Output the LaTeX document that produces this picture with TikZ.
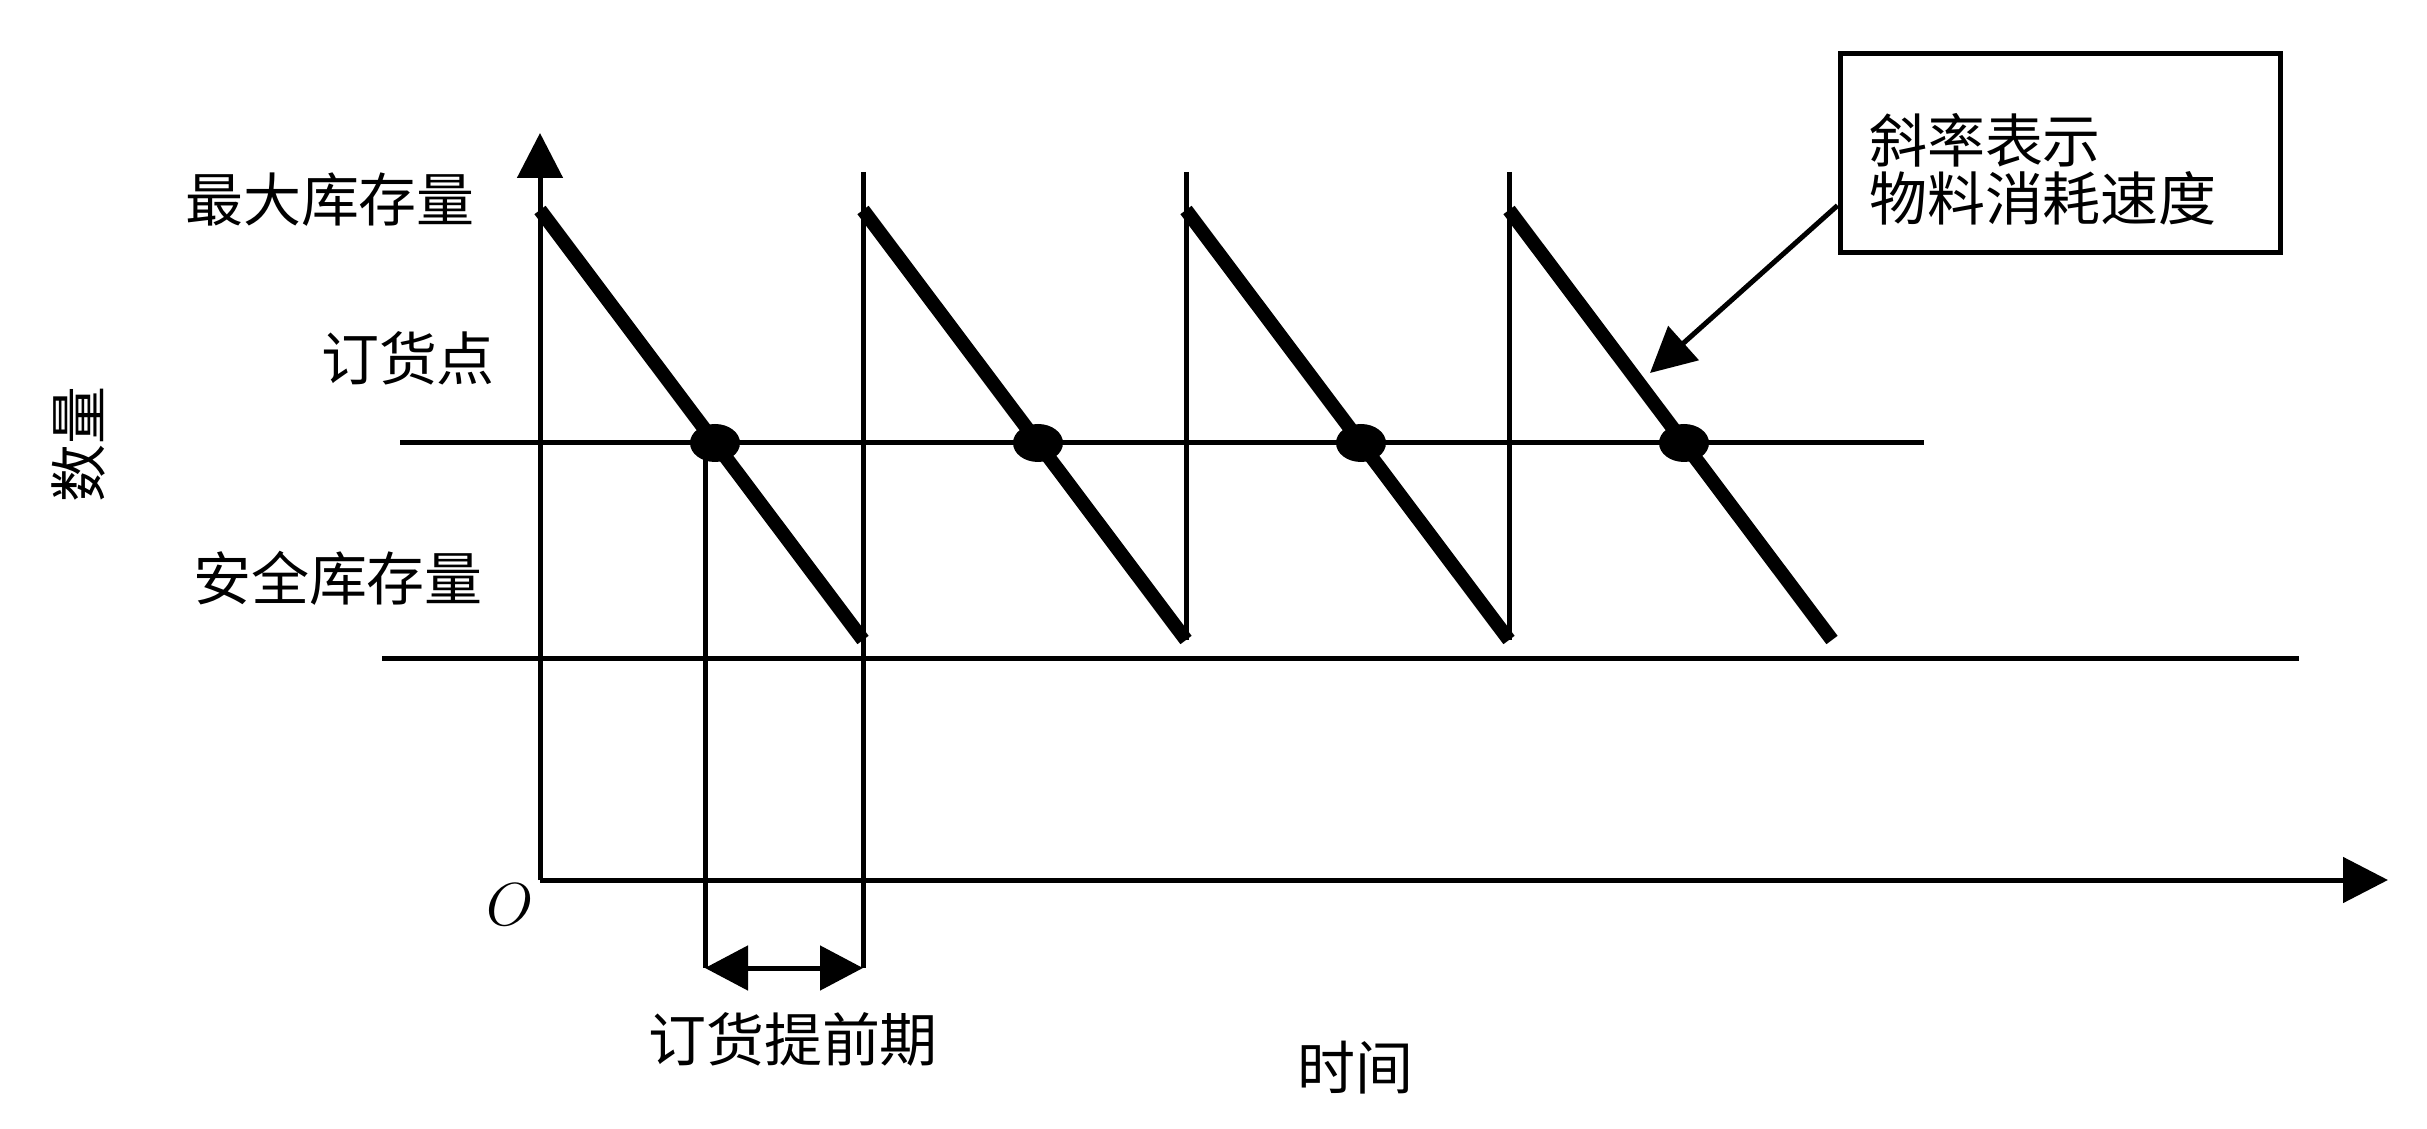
\documentclass[tikz,border=0pt]{standalone}
\usepackage{fontspec}
\newfontfamily\cjkfont{Noto Sans CJK SC}
\usetikzlibrary{arrows.meta,shapes.geometric,calc}
\tikzset{
  kcxian/.style={line width=0.5mm, draw=black},
  kcjiantou/.style={kcxian, -{Triangle[length=4.5mm,width=4.5mm]}},
  kcshuang/.style={kcxian, {Triangle[length=4.3mm,width=4.4mm]}-{Triangle[length=4.3mm,width=4.4mm]}},
  kcchi/.style={line width=1.4mm, draw=black},
  kcdian/.style={ellipse, fill=black, inner sep=0pt, minimum width=5mm, minimum height=3.8mm},
  kcwenzi/.style={font=\cjkfont\fontsize{16.5}{16.5}\selectfont, inner sep=0pt},
  kcshuoming/.style={kcxian, kcwenzi, align=left, text width=3.82cm, inner xsep=2.9mm,
                     minimum width=4.4cm, minimum height=1.99cm},
}
\begin{document}
\begin{tikzpicture}
  \useasboundingbox (0,0) rectangle (24.27,11.28);
  % axes
  \coordinate (o) at (5.40,2.48);
  \coordinate (ytop) at (5.40,9.95);
  \coordinate (xend) at (23.88,2.48);
  \draw[kcjiantou] (o) -- (ytop);
  \draw[kcjiantou] (o) -- (xend);
  % reorder point and safety stock
  \coordinate (dhl) at (4.00,6.85);
  \coordinate (dhr) at (19.24,6.85);
  \coordinate (aql) at (3.82,4.70);
  \coordinate (aqr) at (22.99,4.70);
  \draw[kcxian] (dhl) -- (dhr);
  \draw[kcxian] (aql) -- (aqr);
  % replenishment verticals
  \coordinate (b1) at (8.63,9.56);
  \coordinate (b2) at (11.86,9.56);
  \coordinate (b3) at (15.09,9.56);
  \coordinate (jt) at (8.63,1.60);
  \draw[kcxian] (b1) -- (jt);
  \draw[kcxian] (b2) -- (11.86,4.88);
  \draw[kcxian] (b3) -- (15.09,4.88);
  % sawtooth
  \draw[kcchi] (5.40,9.18) -- (8.63,4.88);
  \draw[kcchi] (8.63,9.18) -- (11.86,4.88);
  \draw[kcchi] (11.86,9.18) -- (15.09,4.88);
  \draw[kcchi] (15.09,9.18) -- (18.32,4.88);
  \node[kcdian] (d1) at (7.15,6.85) {};
  \node[kcdian] (d2) at (10.38,6.85) {};
  \node[kcdian] (d3) at (13.61,6.85) {};
  \node[kcdian] (d4) at (16.84,6.85) {};
  % lead time
  \coordinate (jd) at ([xshift=-1mm]d1.center);
  \draw[kcxian] (jd) -- (jd |- jt);
  \draw[kcshuang] (jd |- jt) -- (jt);
  % labels
  \node[kcwenzi] (zd) at (3.30,9.28) {最大库存量};
  \node[kcwenzi] (dh) at (4.08,7.70) {订货点};
  \node[kcwenzi] (aq) at (3.38,5.50) {安全库存量};
  \node[kcwenzi, rotate=90] (sl) at (0.79,6.83) {数量};
  \node[inner sep=0pt, font=\fontsize{16.5}{16.5}\selectfont] (ol) at (5.10,2.23) {$O$};
  \node[kcwenzi] (tq) at (7.93,0.89) {订货提前期};
  \node[kcwenzi] (sj) at (13.55,0.60) {时间};
  \node[kcshuoming] (sm) at (20.60,9.745) {\rule{0pt}{8mm}斜率表示\\物料消耗速度};
  \coordinate (jian) at (16.50,7.55);
  \draw[kcjiantou] ([yshift=-5.2mm]sm.west) -- (jian);
\end{tikzpicture}
\end{document}
